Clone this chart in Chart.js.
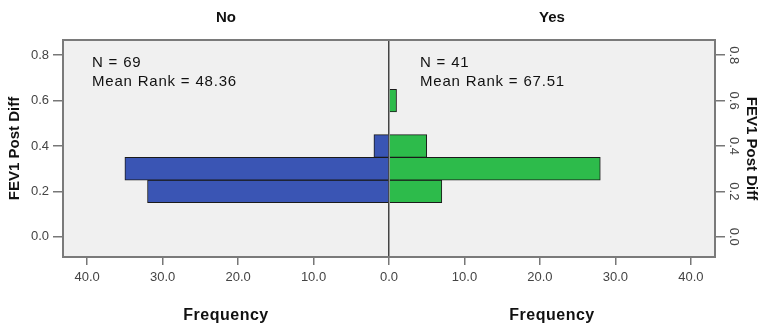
<!DOCTYPE html>
<html>
<head>
<meta charset="utf-8">
<script src="https://cdn.jsdelivr.net/npm/chart.js@4"></script>
<style>
	html, body { margin: 0; padding: 0; background: #fff; }
	#wrap { width: 760px; height: 327px; }
</style>
</head>
<body>
<div id="wrap"><canvas id="pyramid" width="760" height="327"></canvas></div>
<script>
// bin centres of FEV1 Post Diff (bin width 0.1)
var binsNo = [0.2, 0.3, 0.4];
var countNo = [32, 35, 2];
var binsYes = [0.2, 0.3, 0.4, 0.6];
var countYes = [7, 28, 5, 1];
var groupNames = ["No", "Yes"];
var groupNotes = [["N = 69", "Mean Rank = 48.36"], ["N = 41", "Mean Rank = 67.51"]];
var yTicks = [0.0, 0.2, 0.4, 0.6, 0.8];
var freqMax = 43.2;

var fam = "'Liberation Sans', Arial, sans-serif";

var dataNo = [], dataYes = [];
for (var i = 0; i < binsNo.length; i++) {
	dataNo.push({x: -countNo[i], y: binsNo[i]});
}
for (var i = 0; i < binsYes.length; i++) {
	dataYes.push({x: countYes[i], y: binsYes[i]});
}

var extraText = {
	id: 'extraText',
	beforeDraw: function(chart) {
		var ctx = chart.ctx, a = chart.chartArea;
		ctx.save();
		ctx.fillStyle = '#f0f0f0';
		ctx.fillRect(a.left, a.top, a.right - a.left, a.bottom - a.top);
		ctx.restore();
	},
	afterDraw: function(chart) {
		var ctx = chart.ctx, a = chart.chartArea;
		var mid = chart.scales.x.getPixelForValue(0);
		var centres = [(a.left + mid) / 2, (mid + a.right) / 2];
		ctx.save();
		ctx.fillStyle = '#111';
		ctx.textAlign = 'center';
		ctx.textBaseline = 'middle';
		ctx.font = 'bold 15px ' + fam;
		for (var i = 0; i < 2; i++) {
			ctx.fillText(groupNames[i], centres[i], 18);
		}
		ctx.font = 'bold 16px ' + fam;
		ctx.letterSpacing = '0.5px';
		for (var i = 0; i < 2; i++) {
			ctx.fillText('Frequency', centres[i], 316);
		}
		ctx.textAlign = 'left';
		ctx.font = '15px ' + fam;
		ctx.letterSpacing = '0.8px';
		var starts = [a.left + 29, mid + 31];
		for (var i = 0; i < 2; i++) {
			ctx.fillText(groupNotes[i][0], starts[i], 63);
			ctx.fillText(groupNotes[i][1], starts[i], 82);
		}
		ctx.letterSpacing = '0px';
		// frame
		ctx.strokeStyle = '#7a7a7a';
		ctx.lineWidth = 2;
		ctx.strokeRect(a.left, a.top, a.right - a.left, a.bottom - a.top);
		ctx.restore();
	}
};

var tickFont = {family: fam, size: 13};

var config = {
	type: 'bar',
	data: {
		datasets: [
			{
				label: groupNames[0],
				data: dataNo,
				backgroundColor: "#3a55b4",
				borderColor: "#1a1a1a",
				borderWidth: 1
			},
			{
				label: groupNames[1],
				data: dataYes,
				backgroundColor: "#2dbb4b",
				borderColor: "#1a1a1a",
				borderWidth: 1
			}
		]
	},
	plugins: [extraText],
	options: {
		indexAxis: 'y',
		responsive: false,
		animation: false,
		grouped: false,
		barPercentage: 1,
		categoryPercentage: 1,
		layout: {padding: {top: 40, left: 0, right: 0, bottom: 0}},
		plugins: {
			legend: {display: false},
			tooltip: {enabled: false}
		},
		scales: {
			x: {
				type: 'linear',
				min: -freqMax,
				max: freqMax,
				afterBuildTicks: function(scale) {
					var t = [];
					for (var v = -40; v <= 40; v += 10) t.push({value: v});
					scale.ticks = t;
				},
				afterFit: function(scale) { scale.height = 70; },
				ticks: {
					color: '#444',
					font: tickFont,
					padding: 5,
					maxRotation: 0,
					callback: function(v) { return Math.abs(v).toFixed(1); }
				},
				grid: {
					drawOnChartArea: true,
					tickLength: 8,
					color: function(c) { return c.tick && c.tick.value === 0 ? '#444' : 'rgba(0,0,0,0)'; },
					tickColor: '#777',
					lineWidth: 1.5
				},
				border: {display: false}
			},
			y: {
				type: 'linear',
				position: 'left',
				min: -0.089,
				max: 0.867,
				offset: false,
				afterBuildTicks: function(scale) {
					scale.ticks = yTicks.map(function(v) { return {value: v}; });
				},
				afterFit: function(scale) { scale.width = 63; },
				ticks: {
					color: '#444',
					font: tickFont,
					padding: 4,
					callback: function(v) { return v.toFixed(1); }
				},
				grid: {drawOnChartArea: false, offset: false, tickLength: 10, tickColor: '#777', lineWidth: 1.5},
				border: {display: false},
				title: {
					display: true,
					text: 'FEV1 Post Diff',
					color: '#111',
					font: {family: fam, size: 15, weight: 'bold'},
					padding: {top: 6, bottom: 2}
				}
			},
			y2: {
				type: 'linear',
				position: 'right',
				min: -0.089,
				max: 0.867,
				offset: false,
				afterBuildTicks: function(scale) {
					scale.ticks = yTicks.map(function(v) { return {value: v}; });
				},
				afterFit: function(scale) { scale.width = 45; },
				ticks: {
					color: '#444',
					font: tickFont,
					padding: 0,
					crossAlign: 'center',
					minRotation: -90,
					maxRotation: -90,
					callback: function(v) { return v.toFixed(1); }
				},
				grid: {drawOnChartArea: false, offset: false, tickLength: 10, tickColor: '#777', lineWidth: 1.5},
				border: {display: false},
				title: {
					display: true,
					text: 'FEV1 Post Diff',
					color: '#111',
					font: {family: fam, size: 15, weight: 'bold'},
					padding: {top: 0, bottom: 0}
				}
			}
		}
	}
};

var pyramidChart = new Chart(
	document.getElementById('pyramid').getContext('2d'),
	config
);
</script>
</body>
</html>
